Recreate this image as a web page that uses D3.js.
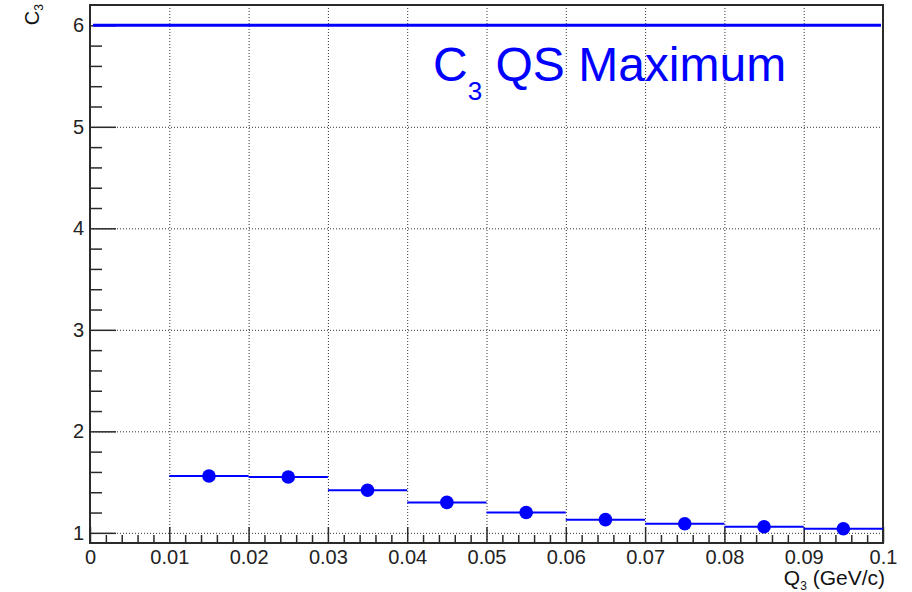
<!DOCTYPE html>
<html>
<head>
<meta charset="utf-8">
<script src="https://cdn.jsdelivr.net/npm/d3@7"></script>
<style>
  html, body { margin: 0; padding: 0; background: #fff; }
  svg { display: block; font-family: "Liberation Sans", Arial, sans-serif; }
</style>
</head>
<body>
<svg id="chart" width="912" height="592"></svg>
<script>
// Bin edges of Q3 (GeV/c) and the measured C3 in each bin
const binLow  = [0.01, 0.02, 0.03, 0.04, 0.05, 0.06, 0.07, 0.08, 0.09];
const binHigh = [0.02, 0.03, 0.04, 0.05, 0.06, 0.07, 0.08, 0.09, 0.10];
const c3Values = [1.56, 1.55, 1.42, 1.30, 1.20, 1.13, 1.09, 1.06, 1.04];
// Quantum-statistics maximum of C3
const qsMaximum = [6];

const xMajorTicks = [0, 0.01, 0.02, 0.03, 0.04, 0.05, 0.06, 0.07, 0.08, 0.09, 0.1];
const xTickLabels = ["0", "0.01", "0.02", "0.03", "0.04", "0.05", "0.06", "0.07", "0.08", "0.09", "0.1"];
const yMajorTicks = [1, 2, 3, 4, 5, 6];
const yTickLabels = ["1", "2", "3", "4", "5", "6"];

const svg = d3.select("#chart");
const frame = { left: 90, right: 883, top: 5, bottom: 543 };

const x = d3.scaleLinear().domain([0, 0.1]).range([frame.left, frame.right]);
const y = d3.scaleLinear().domain([0.9, 6.2]).range([frame.bottom, frame.top]);

const W = frame.right - frame.left;
const H = frame.bottom - frame.top;

// minor tick positions (5 divisions per major interval)
const xMinor = d3.range(0, 50).map(i => i * 0.002).filter((v, i) => i % 5 !== 0);
const yMinor = d3.range(5, 31).map(i => i * 0.2).filter(v => v > 0.9 && v < 6.2 && Math.abs(v - Math.round(v)) > 1e-6);

// dotted grid
const grid = svg.append("g").attr("class", "grid");
grid.append("g")
  .attr("transform", `translate(0,${frame.bottom})`)
  .call(d3.axisBottom(x).tickValues(xMajorTicks.slice(1, -1)).tickSize(-H).tickFormat(""))
  .call(g => g.select(".domain").remove())
  .call(g => g.selectAll("line").attr("stroke", "#333").attr("stroke-width", 1).attr("stroke-dasharray", "1,2"));
grid.append("g")
  .attr("transform", `translate(${frame.left},0)`)
  .call(d3.axisLeft(y).tickValues(yMajorTicks.slice(0, -1)).tickSize(-W).tickFormat(""))
  .call(g => g.select(".domain").remove())
  .call(g => g.selectAll("line").attr("stroke", "#333").attr("stroke-width", 1).attr("stroke-dasharray", "1,2"));

// axes with inward ticks
const axisColor = "#2a2a2a";
const xAxis = svg.append("g").attr("transform", `translate(0,${frame.bottom})`);
xAxis.call(d3.axisBottom(x).tickValues(xMinor).tickSize(-8).tickFormat(""))
  .call(g => g.select(".domain").remove());
xAxis.append("g")
  .call(d3.axisBottom(x).tickValues(xMajorTicks).tickSize(-16).tickPadding(7)
    .tickFormat((d, i) => xTickLabels[i]))
  .call(g => g.select(".domain").remove());
xAxis.selectAll("line").attr("stroke", axisColor).attr("stroke-width", 1.5);
xAxis.selectAll("text").attr("font-size", 20).attr("fill", "#222")
  .attr("font-family", "Liberation Sans, Arial, sans-serif");

const yAxis = svg.append("g").attr("transform", `translate(${frame.left},0)`);
yAxis.call(d3.axisLeft(y).tickValues(yMinor).tickSize(-12).tickFormat(""))
  .call(g => g.select(".domain").remove());
yAxis.append("g")
  .call(d3.axisLeft(y).tickValues(yMajorTicks).tickSize(-26).tickPadding(6)
    .tickFormat((d, i) => yTickLabels[i]))
  .call(g => g.select(".domain").remove());
yAxis.selectAll("line").attr("stroke", axisColor).attr("stroke-width", 1.5);
yAxis.selectAll("text").attr("font-size", 20).attr("fill", "#222")
  .attr("font-family", "Liberation Sans, Arial, sans-serif");

// frame
svg.append("rect")
  .attr("x", frame.left).attr("y", frame.top)
  .attr("width", W).attr("height", H)
  .attr("fill", "none").attr("stroke", axisColor).attr("stroke-width", 2);

const blue = "#0000ff";

// QS maximum line
svg.selectAll("line.qs").data(qsMaximum).enter().append("line")
  .attr("class", "qs")
  .attr("x1", x(0) + 3).attr("x2", x(0.1) - 2)
  .attr("y1", d => y(d)).attr("y2", d => y(d))
  .attr("stroke", blue).attr("stroke-width", 3);

// per-bin horizontal bars
const bins = c3Values.map((v, i) => ({ lo: binLow[i], hi: binHigh[i], v }));
svg.selectAll("line.bin").data(bins).enter().append("line")
  .attr("class", "bin")
  .attr("x1", d => x(d.lo)).attr("x2", d => x(d.hi))
  .attr("y1", d => y(d.v)).attr("y2", d => y(d.v))
  .attr("stroke", blue).attr("stroke-width", 2);

// markers at bin centres
svg.selectAll("circle.pt").data(bins).enter().append("circle")
  .attr("class", "pt")
  .attr("cx", d => x((d.lo + d.hi) / 2))
  .attr("cy", d => y(d.v))
  .attr("r", 6.8)
  .attr("fill", blue);

// annotation
const ann = svg.append("text")
  .attr("x", 433).attr("y", 81)
  .attr("font-size", 48).attr("fill", blue);
ann.append("tspan").text("C");
ann.append("tspan").attr("font-size", 26).attr("dy", 19).text("3");
ann.append("tspan").attr("dy", -19).text(" QS Maximum");

// axis titles
const yt = svg.append("text")
  .attr("transform", "translate(39,4) rotate(-90)")
  .attr("text-anchor", "end")
  .attr("font-size", 20).attr("fill", "#111");
yt.append("tspan").text("C");
yt.append("tspan").attr("font-size", 12).attr("dy", 4).text("3");

const xt = svg.append("text")
  .attr("x", 885).attr("y", 585)
  .attr("text-anchor", "end")
  .attr("font-size", 21).attr("fill", "#111");
xt.append("tspan").text("Q");
xt.append("tspan").attr("font-size", 12).attr("dy", 5).text("3");
xt.append("tspan").attr("dy", -5).text(" (GeV/c)");
</script>
</body>
</html>
